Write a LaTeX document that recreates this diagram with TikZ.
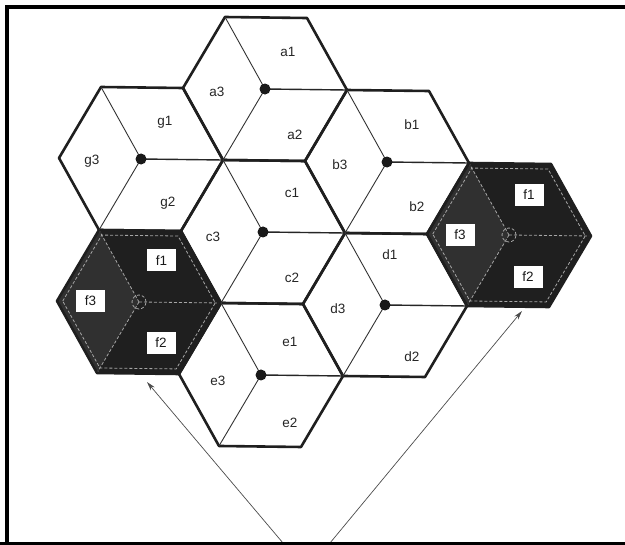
\documentclass[tikz,border=0pt]{standalone}
\usepackage{fontspec}
\setmainfont{Liberation Sans}
\usetikzlibrary{arrows.meta}
\begin{document}
\begin{tikzpicture}[x=1pt,y=-1pt,
  hexline/.style={line width=2.6pt, draw=black!88, line join=round},
  thinspoke/.style={line width=0.9pt, draw=black!80},
  mainspoke/.style={line width=1.4pt, draw=black!85},
  lightline/.style={line width=0.8pt, draw=white!65!black, densely dashed},
  hub/.style={circle, fill=black!90, minimum size=11pt, inner sep=0pt},
  celllabel/.style={font=\fontsize{13.5}{15}\selectfont, text=black!85, inner sep=0pt},
  flabel/.style={fill=white, text=black!90, font=\fontsize{13.5}{15}\selectfont, minimum width=29pt, minimum height=22pt, inner sep=0pt},
  pointer/.style={line width=0.7pt, draw=black!70, -{Stealth[length=9pt,width=5pt]}},
  frameline/.style={line width=4pt, draw=black},
]
\useasboundingbox (0,0) rectangle (625,545);
\fill[white] (0,0) rectangle (625,545);

\begin{scope}[shift={(263,232)}, x={(82pt,-1pt)}, y={(1.155pt,82.56pt)}]
  \coordinate (c) at (0,0);
  \coordinate (a) at (0,1.732);
  \coordinate (e) at (0,-1.732);
  \coordinate (b) at (1.5,0.866);
  \coordinate (d) at (1.5,-0.866);
  \coordinate (g) at (-1.5,0.866);
  \coordinate (fL) at (-1.5,-0.866);
  \coordinate (fR) at (3,0);
  % shaded f cells
  \foreach \px/\py in {-1.5/-0.866, 3/0}{
    \begin{scope}[shift={(\px,\py)}]
      \fill[black!88] (-1,0) -- (-0.5,0.866) -- (0.5,0.866) -- (1,0) -- (0.5,-0.866) -- (-0.5,-0.866) -- cycle;
      \fill[black!81] (0,0) -- (-0.5,0.866) -- (-1,0) -- (-0.5,-0.866) -- cycle;
      \draw[lightline] (-0.93,0) -- (-0.465,0.805) -- (0.465,0.805) -- (0.93,0) -- (0.465,-0.805) -- (-0.465,-0.805) -- cycle;
      \draw[lightline] (0,0) -- (-0.5,0.866) (0,0) -- (-0.5,-0.866) (0,0) -- (1,0);
      \draw[lightline] (0,0) circle (7pt);
    \end{scope}
  }
  % outlines of all cells
  \foreach \px/\py in {0/0, 0/1.732, 0/-1.732, 1.5/0.866, 1.5/-0.866, -1.5/0.866, -1.5/-0.866, 3/0}{
    \begin{scope}[shift={(\px,\py)}]
      \draw[hexline] (-1,0) -- (-0.5,0.866) -- (0.5,0.866) -- (1,0) -- (0.5,-0.866) -- (-0.5,-0.866) -- cycle;
    \end{scope}
  }
  % sector lines of the plain cells
  \foreach \px/\py in {0/0, 0/1.732, 0/-1.732, 1.5/0.866, 1.5/-0.866, -1.5/0.866}{
    \begin{scope}[shift={(\px,\py)}]
      \draw[thinspoke] (0,0) -- (-0.5,0.866) (0,0) -- (-0.5,-0.866);
      \draw[mainspoke] (0,0) -- (1,0);
    \end{scope}
  }
\end{scope}

% hubs
\foreach \n in {a,b,c,d,e,g}{
  \node[hub] (hub\n) at (\n) {};
}

% sector labels
\node[celllabel] (la1) at (288,52) {a1};
\node[celllabel] (la3) at (217,92) {a3};
\node[celllabel] (la2) at (295,135) {a2};
\node[celllabel] (lg1) at (165,122) {g1};
\node[celllabel] (lg3) at (92,161) {g3};
\node[celllabel] (lg2) at (168,203) {g2};
\node[celllabel] (lb1) at (412,125) {b1};
\node[celllabel] (lb3) at (340,165) {b3};
\node[celllabel] (lb2) at (417,207) {b2};
\node[celllabel] (lc1) at (292,193) {c1};
\node[celllabel] (lc3) at (213,237) {c3};
\node[celllabel] (lc2) at (292,278) {c2};
\node[celllabel] (ld1) at (390,255) {d1};
\node[celllabel] (ld3) at (338,309) {d3};
\node[celllabel] (ld2) at (412,357) {d2};
\node[celllabel] (le1) at (290,342) {e1};
\node[celllabel] (le3) at (218,381) {e3};
\node[celllabel] (le2) at (290,423) {e2};

% f labels
\node[flabel] (fLone) at (161.5,260.5) {f1};
\node[flabel] (fLthree) at (90.5,301) {f3};
\node[flabel] (fLtwo) at (161,343) {f2};
\node[flabel] (fRone) at (529,195) {f1};
\node[flabel] (fRthree) at (460,235) {f3};
\node[flabel] (fRtwo) at (528,277) {f2};

% arrows
\coordinate (srcL) at (283,543);
\coordinate (tipL) at (147,382);
\coordinate (srcR) at (330,543);
\coordinate (tipR) at (522,311);
\draw[pointer] (srcL) -- (tipL);
\draw[pointer] (srcR) -- (tipR);

% frame
\draw[frameline] (7,545) -- (7,7) -- (625,7);
\draw[line width=3.5pt] (0,543.5) -- (625,543.5);
\end{tikzpicture}
\end{document}
